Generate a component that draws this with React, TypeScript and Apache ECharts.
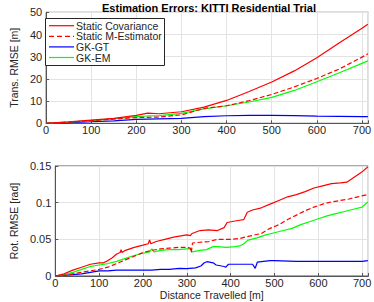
import React, { useEffect, useRef } from "react";
import * as echarts from "echarts";

const title = "Estimation Errors: KITTI Residential Trial";
const seriesNames = ["Static Covariance", "Static M-Estimator", "GK-GT", "GK-EM"];
const seriesColors = ["#ff0000", "#ff0000", "#0000ff", "#00ff00"];
const seriesDash = ["solid", "dashed", "solid", "solid"];

// Translation RMSE [m]
const transDist = [0, 50, 100, 150, 200, 225, 250, 300, 350, 400, 450, 500, 550, 600, 650, 700, 713];
const transStaticCov = [0, 0.6, 1.4, 2.2, 3.6, 4.6, 4.3, 5.2, 7.3, 10.3, 14.3, 18.6, 23.6, 29.5, 36.3, 42.8, 44.6];
const transStaticM = [0, 0.5, 1.2, 1.9, 2.6, 2.7, 2.8, 3.8, 6.7, 7.9, 10.2, 13.0, 16.4, 20.2, 24.5, 29.8, 31.3];
const transGKGT = [0, 0.3, 0.7, 1.1, 1.8, 1.9, 2.0, 2.2, 3.0, 3.4, 3.6, 3.6, 3.5, 3.2, 3.1, 3.0, 3.0];
const transGKEM = [0, 0.5, 1.2, 2.0, 3.0, 3.3, 3.5, 4.5, 6.5, 7.9, 9.6, 11.7, 14.8, 18.7, 22.8, 27.0, 28.1];

// Rotation RMSE [rad]
const rotCovDist = [0, 20, 40, 60, 80, 100, 110, 120, 130, 140, 148, 150, 152, 160, 180, 200, 212, 215, 218, 230, 250, 270, 290, 300, 308, 312, 330, 350, 370, 385, 392, 410, 420, 430, 438, 450, 470, 490, 510, 530, 550, 570, 590, 610, 630, 650, 665, 680, 700, 713];
const rotStaticCov = [0, 0.003, 0.008, 0.012, 0.016, 0.018, 0.018, 0.021, 0.025, 0.030, 0.032, 0.036, 0.032, 0.035, 0.039, 0.042, 0.044, 0.049, 0.044, 0.047, 0.050, 0.053, 0.055, 0.056, 0.055, 0.058, 0.062, 0.063, 0.062, 0.066, 0.073, 0.075, 0.076, 0.077, 0.087, 0.090, 0.093, 0.098, 0.103, 0.108, 0.111, 0.115, 0.120, 0.123, 0.126, 0.127, 0.128, 0.134, 0.142, 0.149];

const rotMDist = [0, 20, 40, 60, 80, 100, 120, 140, 160, 180, 200, 220, 240, 260, 280, 300, 308, 310, 313, 330, 350, 370, 400, 420, 440, 470, 490, 510, 530, 550, 570, 590, 610, 630, 650, 670, 690, 713];
const rotStaticM = [0, 0.001, 0.003, 0.005, 0.007, 0.009, 0.012, 0.017, 0.022, 0.027, 0.032, 0.035, 0.037, 0.038, 0.039, 0.039, 0.038, 0.032, 0.045, 0.046, 0.047, 0.050, 0.050, 0.051, 0.054, 0.058, 0.065, 0.070, 0.077, 0.083, 0.089, 0.094, 0.098, 0.101, 0.103, 0.105, 0.108, 0.111];

const rotGTDist = [0, 20, 40, 60, 80, 100, 120, 140, 160, 180, 200, 220, 240, 260, 283, 300, 320, 332, 340, 346, 360, 367, 385, 389, 395, 420, 450, 456, 461, 475, 490, 500, 550, 600, 650, 700, 713];
const rotGKGT = [0, 0.001, 0.002, 0.003, 0.005, 0.007, 0.007, 0.008, 0.008, 0.008, 0.008, 0.008, 0.009, 0.009, 0.0105, 0.010, 0.011, 0.0136, 0.018, 0.0195, 0.018, 0.015, 0.013, 0.012, 0.016, 0.016, 0.016, 0.0105, 0.019, 0.020, 0.021, 0.021, 0.020, 0.020, 0.020, 0.020, 0.021];

const rotEMDist = [0, 20, 40, 60, 80, 100, 120, 140, 160, 180, 200, 215, 220, 225, 240, 260, 280, 300, 308, 312, 330, 345, 360, 370, 390, 410, 420, 430, 440, 460, 480, 500, 520, 540, 560, 580, 600, 620, 640, 660, 680, 700, 713];
const rotGKEM = [0, 0.002, 0.005, 0.009, 0.013, 0.015, 0.017, 0.020, 0.024, 0.028, 0.031, 0.033, 0.037, 0.033, 0.035, 0.036, 0.036, 0.037, 0.037, 0.033, 0.035, 0.036, 0.040, 0.040, 0.039, 0.040, 0.041, 0.044, 0.049, 0.052, 0.056, 0.059, 0.062, 0.065, 0.070, 0.074, 0.078, 0.082, 0.085, 0.088, 0.091, 0.094, 0.101];

const xTicks = [0, 100, 200, 300, 400, 500, 600, 700];
const xMax = 714;

const zip = (xs: number[], ys: number[]) => xs.map((x, i) => [x, ys[i]]);

const FONT = "Liberation Sans, Arial, Helvetica, sans-serif";
const TXT = "#262626";
const AXC = "#555555";
const GRIDC = "#e3e3e3";

export default function App() {
  const ref = useRef<HTMLDivElement>(null);
  useEffect(() => {
    if (!ref.current) return;
    const chart = echarts.init(ref.current, null, { renderer: "svg" });
    const xAxisBase = (gridIndex: number, name: string) => ({
      type: "value" as const,
      gridIndex,
      min: 0,
      max: xMax,
      interval: 100,
      name,
      nameLocation: "middle" as const,
      nameGap: 13,
      nameTextStyle: { fontFamily: FONT, fontSize: 10.5, color: TXT },
      axisLine: { show: true, lineStyle: { color: AXC, width: 1 } },
      axisTick: { show: true, inside: true, length: 3, lineStyle: { color: AXC } },
      splitLine: { show: true, lineStyle: { color: GRIDC, width: 1 } },
      axisLabel: {
        fontFamily: FONT,
        fontSize: 11,
        color: TXT,
        margin: 1,
        formatter: (v: number) => (xTicks.includes(v) ? String(v) : ""),
      },
    });
    const yAxisBase = (gridIndex: number, max: number, interval: number, name: string, gap: number) => ({
      type: "value" as const,
      gridIndex,
      min: 0,
      max,
      interval,
      name,
      nameLocation: "middle" as const,
      nameRotate: 90,
      nameGap: gap,
      nameTextStyle: { fontFamily: FONT, fontSize: 10.5, color: TXT },
      axisLine: { show: true, lineStyle: { color: AXC, width: 1 } },
      axisTick: { show: true, inside: true, length: 3, lineStyle: { color: AXC } },
      splitLine: { show: true, lineStyle: { color: GRIDC, width: 1 } },
      axisLabel: { fontFamily: FONT, fontSize: 11, color: TXT, margin: 4 },
    });
    const mk = (i: number, data: number[][], axis: number) => ({
      name: seriesNames[i],
      type: "line" as const,
      xAxisIndex: axis,
      yAxisIndex: axis,
      data,
      showSymbol: false,
      symbol: "none",
      lineStyle: { color: seriesColors[i], width: 1.2, type: seriesDash[i] },
      itemStyle: { color: seriesColors[i] },
      z: i === 0 ? 5 : i === 1 ? 4 : 3,
    });
    const legendX = 45;
    const legendY = 18;
    const legendRowH = 10.6;
    const legendChildren: any[] = [
      {
        type: "rect",
        z: 100,
        shape: { x: legendX + 0.5, y: legendY + 0.5, width: 119, height: 47 },
        style: { fill: "#ffffff", stroke: "#262626", lineWidth: 1 },
      },
    ];
    seriesNames.forEach((n, i) => {
      const cy = legendY + 7.7 + i * legendRowH;
      legendChildren.push({
        type: "line",
        z: 101,
        shape: { x1: legendX + 4, y1: cy, x2: legendX + 29, y2: cy },
        style: {
          stroke: seriesColors[i],
          lineWidth: 1.2,
          lineDash: seriesDash[i] === "dashed" ? [5, 3] : null,
        },
      });
      legendChildren.push({
        type: "text",
        z: 101,
        x: legendX + 31,
        y: cy,
        style: {
          text: n,
          fontFamily: FONT,
          fontSize: 10.5,
          fill: TXT,
          verticalAlign: "middle",
          align: "left",
        },
      });
    });
    chart.setOption({
      animation: false,
      backgroundColor: "#ffffff",
      title: {
        text: title,
        left: 204,
        textAlign: "center",
        top: -3,
        textStyle: { fontFamily: FONT, fontSize: 11, fontWeight: "bold", color: "#000" },
      },
      grid: [
        { left: 37.7, right: 2, top: 12.3, height: 111, show: true, borderColor: AXC, borderWidth: 1, backgroundColor: "transparent" },
        { left: 37.7, right: 2, top: 166, height: 110, show: true, borderColor: AXC, borderWidth: 1, backgroundColor: "transparent" },
      ],
      xAxis: [xAxisBase(0, ""), xAxisBase(1, "Distance Travelled [m]")],
      yAxis: [
        yAxisBase(0, 50, 10, "Trans. RMSE [m]", 17),
        yAxisBase(1, 0.15, 0.05, "Rot. RMSE [rad]", 26),
      ],
      graphic: legendChildren,
      series: [
        mk(0, zip(transDist, transStaticCov), 0),
        mk(1, zip(transDist, transStaticM), 0),
        mk(2, zip(transDist, transGKGT), 0),
        mk(3, zip(transDist, transGKEM), 0),
        mk(0, zip(rotCovDist, rotStaticCov), 1),
        mk(1, zip(rotMDist, rotStaticM), 1),
        mk(2, zip(rotGTDist, rotGKGT), 1),
        mk(3, zip(rotEMDist, rotGKEM), 1),
      ],
    });
    return () => chart.dispose();
  }, []);
  return <div ref={ref} style={{ width: 374, height: 302, position: "absolute", left: 0, top: 0 }} />;
}
